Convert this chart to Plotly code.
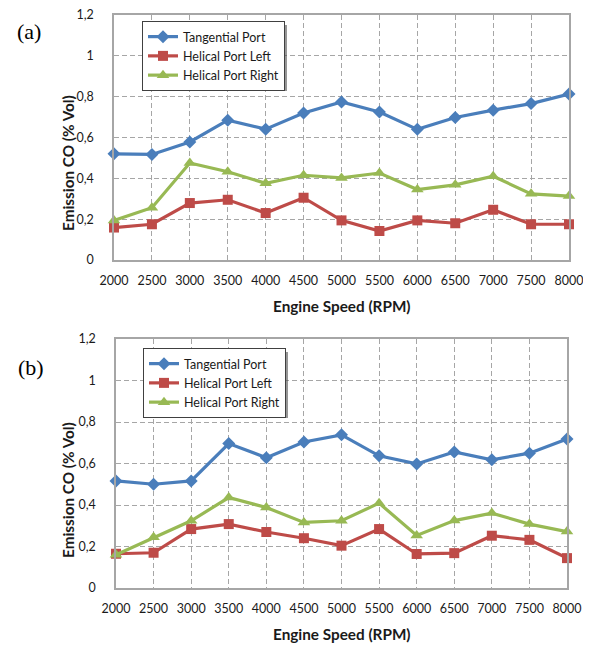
import plotly.graph_objects as go

rpm = [2000, 2500, 3000, 3500, 4000, 4500, 5000, 5500, 6000, 6500, 7000, 7500, 8000]
series_names = ["Tangential Port", "Helical Port Left", "Helical Port Right"]

# (a)
a_tangential = [0.52, 0.517, 0.578, 0.685, 0.641, 0.72, 0.774, 0.725, 0.64, 0.698, 0.734, 0.766, 0.813]
a_left = [0.159, 0.175, 0.279, 0.295, 0.23, 0.305, 0.194, 0.142, 0.194, 0.18, 0.246, 0.175, 0.175]
a_right = [0.194, 0.256, 0.475, 0.432, 0.376, 0.415, 0.402, 0.426, 0.345, 0.368, 0.41, 0.324, 0.313]

# (b)
b_tangential = [0.516, 0.50, 0.516, 0.696, 0.628, 0.704, 0.738, 0.637, 0.598, 0.656, 0.618, 0.65, 0.718]
b_left = [0.165, 0.17, 0.284, 0.308, 0.27, 0.24, 0.204, 0.284, 0.164, 0.168, 0.252, 0.232, 0.144]
b_right = [0.16, 0.244, 0.324, 0.436, 0.388, 0.316, 0.324, 0.409, 0.253, 0.325, 0.361, 0.308, 0.272]

y_ticks = [0, 0.2, 0.4, 0.6, 0.8, 1.0, 1.2]
y_ticktext = ["0", "0,2", "0,4", "0,6", "0,8", "1", "1,2"]

colors = ["#4A7EBB", "#BE4B48", "#98B954"]
symbols = ["diamond", "square", "triangle-up"]
msizes = [10, 10, 11]

# page body has an 8px margin; work in reference-pixel coordinates and shift
OFF = 8
W, H = 591 - 2 * OFF, 646 - OFF
FONT = "Lato"


def px(x):
    return (x - OFF) / W


def py(y):
    return 1 - (y - OFF) / H


fig = go.Figure()

panels = [
    ("x", "y", "legend", [a_tangential, a_left, a_right]),
    ("x2", "y2", "legend2", [b_tangential, b_left, b_right]),
]
for xa, ya, lg, data in panels:
    for name, vals, c, s, ms in zip(series_names, data, colors, symbols, msizes):
        fig.add_trace(go.Scatter(
            x=rpm, y=vals, name=name, mode="lines+markers",
            line=dict(color=c, width=3.2),
            marker=dict(symbol=s, size=ms, color=c),
            xaxis=xa, yaxis=ya, legend=lg, cliponaxis=False,
        ))

GRID = dict(showgrid=True, gridcolor="#A6A6A6", griddash="5px,3px", gridwidth=1,
            showline=True, linecolor="#A6A6A6", linewidth=1.5, mirror=True,
            ticks="", automargin=False, ticklabeloverflow="allow",
            tickfont=dict(family=FONT, size=12.5, color="#1a1a1a"),
            zeroline=False, fixedrange=True)


def xaxis(domain, anchor):
    return dict(domain=domain, anchor=anchor, range=[2000, 8000],
                tickmode="array", tickvals=rpm, ticktext=[str(v) for v in rpm],
                ticklabelstandoff=8, **GRID)


def yaxis(domain, anchor):
    return dict(domain=domain, anchor=anchor, range=[0, 1.2],
                tickmode="array", tickvals=y_ticks, ticktext=y_ticktext,
                ticklabelstandoff=16, **GRID)


legend_style = dict(
    bgcolor="white", bordercolor="#404040", borderwidth=1,
    font=dict(family=FONT, size=12.5, color="#1a1a1a"),
    xanchor="left", yanchor="top", tracegroupgap=0, itemwidth=30,
)

LEG = [(142, 21), (143, 348)]  # legend top-left corners (reference pixels)

fig.update_layout(
    width=W, height=H,
    margin=dict(l=0, r=0, t=0, b=0, autoexpand=False),
    paper_bgcolor="white", plot_bgcolor="white",
    showlegend=True,
    xaxis=xaxis([px(114), px(569)], "y"),
    yaxis=yaxis([py(260), py(15)], "x"),
    xaxis2=xaxis([px(116), px(567)], "y2"),
    yaxis2=yaxis([py(588), py(339)], "x2"),
    legend=dict(x=px(LEG[0][0]), y=py(LEG[0][1]), **legend_style),
    legend2=dict(x=px(LEG[1][0]), y=py(LEG[1][1]), **legend_style),
)

# legend drop shadows
shapes = []
for x0, y0 in LEG:
    shapes.append(dict(type="rect", xref="paper", yref="paper",
                       x0=px(x0 + 4), x1=px(x0 + 145), y0=py(y0 + 4), y1=py(y0 + 70),
                       fillcolor="rgba(80,80,80,0.6)", line=dict(width=0), layer="above"))
fig.update_layout(shapes=shapes)

# axis titles and panel labels
ann = []
for yc in [306, 634]:
    ann.append(dict(text="<b>Engine Speed (RPM)</b>", x=px(342), y=py(yc), xref="paper", yref="paper",
                    xanchor="center", yanchor="middle",
                    showarrow=False, font=dict(family=FONT, size=15.3, color="#1a1a1a")))
for yc in [163, 490]:
    ann.append(dict(text="<b>Emission CO (% Vol)</b>", x=px(68), y=py(yc), xref="paper", yref="paper",
                    xanchor="center", yanchor="middle",
                    showarrow=False, textangle=-90, font=dict(family=FONT, size=15.3, color="#1a1a1a")))
for t, xc, yc in [("(a)", 29, 32), ("(b)", 31, 367)]:
    ann.append(dict(text=t, x=px(xc), y=py(yc), xref="paper", yref="paper", showarrow=False,
                    xanchor="center", yanchor="middle",
                    font=dict(family="Liberation Serif", size=22, color="black")))
fig.update_layout(annotations=ann)

fig.write_html("out.html")
